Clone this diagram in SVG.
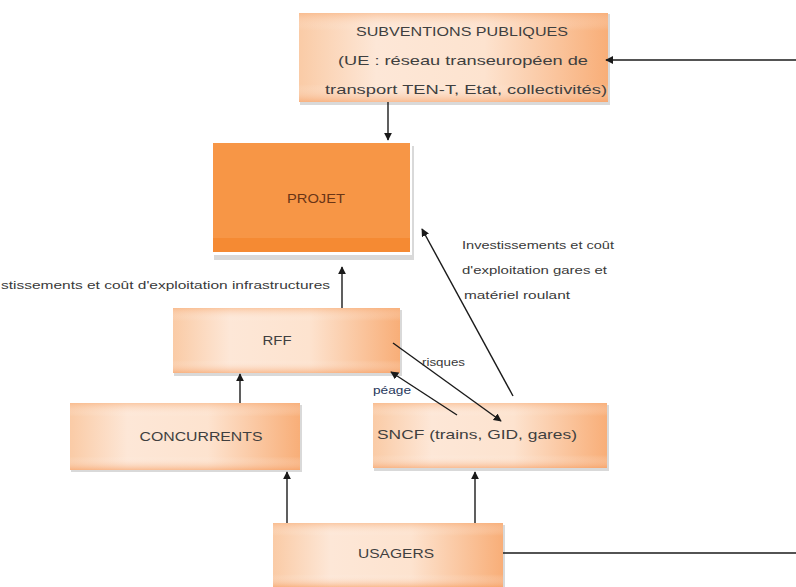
<svg xmlns="http://www.w3.org/2000/svg" width="796" height="587" viewBox="0 0 796 587">
<defs>
<linearGradient id="peach" x1="0" y1="0" x2="1" y2="0">
<stop offset="0" stop-color="#FACBA6"/>
<stop offset="0.25" stop-color="#FDE7D7"/>
<stop offset="0.6" stop-color="#FDE3CF"/>
<stop offset="1" stop-color="#F8AE78"/>
</linearGradient>
<linearGradient id="shade" x1="0" y1="0" x2="0" y2="1">
<stop offset="0" stop-color="#F8B07C" stop-opacity="0.55"/>
<stop offset="0.2" stop-color="#FFFFFF" stop-opacity="0"/>
<stop offset="0.8" stop-color="#FFFFFF" stop-opacity="0"/>
<stop offset="1" stop-color="#F6A066" stop-opacity="0.6"/>
</linearGradient>
<marker id="arr" viewBox="0 0 10 10" refX="9" refY="5" markerWidth="8" markerHeight="8" markerUnits="userSpaceOnUse" orient="auto">
<path d="M0,0 L10,5 L0,10 Z" fill="#1a1a1a"/>
</marker>
</defs>
<style>
.box{fill:url(#peach);}
.ov{fill:url(#shade);}
.sh{fill:#d9d9d9;}
.t{font-family:"Liberation Sans",Arial,sans-serif;font-size:13px;fill:#3f3f3f;text-anchor:middle;}
.lbl{font-family:"Liberation Sans",Arial,sans-serif;font-size:10.5px;fill:#3a3a3a;}
.c{stroke:#1a1a1a;stroke-width:1.4;fill:none;marker-end:url(#arr);}
.cl{stroke:#1a1a1a;stroke-width:1.4;fill:none;}
</style>
<rect width="796" height="587" fill="#ffffff"/>

<g id="subventions">
<rect class="sh" x="300" y="14" width="310" height="91"/>
<rect class="box" x="299" y="13" width="309" height="89"/>
<rect class="ov" x="299" y="13" width="309" height="89"/>
<text class="t" x="462" y="36" textLength="212" lengthAdjust="spacingAndGlyphs">SUBVENTIONS PUBLIQUES</text>
<text class="t" x="463" y="65" textLength="250" lengthAdjust="spacingAndGlyphs">(UE : réseau transeuropéen de</text>
<text class="t" x="466" y="94" textLength="282" lengthAdjust="spacingAndGlyphs">transport TEN-T, Etat, collectivités)</text>
</g>

<g id="projet">
<rect class="sh" x="214" y="146" width="200" height="114"/>
<rect x="211" y="141" width="201" height="114" fill="#ffffff"/>
<rect x="213" y="143" width="197" height="109" fill="#F79646"/>
<rect x="213" y="238" width="197" height="14" fill="#F58A33"/>
<text class="t" x="316" y="203" textLength="58" lengthAdjust="spacingAndGlyphs" style="fill:#6a3516">PROJET</text>
</g>

<g id="rff">
<rect class="sh" x="174" y="310" width="228" height="66"/>
<rect class="box" x="173" y="308" width="227" height="65"/>
<rect class="ov" x="173" y="308" width="227" height="65"/>
<text class="t" x="277" y="345" textLength="29" lengthAdjust="spacingAndGlyphs">RFF</text>
</g>

<g id="concurrents">
<rect class="sh" x="71" y="405" width="231" height="67"/>
<rect class="box" x="70" y="403" width="230" height="67"/>
<rect class="ov" x="70" y="403" width="230" height="67"/>
<text class="t" x="201" y="441" textLength="123" lengthAdjust="spacingAndGlyphs">CONCURRENTS</text>
</g>

<g id="sncf">
<rect class="sh" x="374" y="405" width="235" height="66"/>
<rect class="box" x="373" y="403" width="234" height="65"/>
<rect class="ov" x="373" y="403" width="234" height="65"/>
<text class="t" x="477" y="439" textLength="200" lengthAdjust="spacingAndGlyphs">SNCF (trains, GID, gares)</text>
</g>

<g id="usagers">
<rect class="sh" x="274" y="525" width="231" height="62"/>
<rect class="box" x="273" y="523" width="230" height="64"/>
<rect class="ov" x="273" y="523" width="230" height="64"/>
<text class="t" x="396" y="558" textLength="76" lengthAdjust="spacingAndGlyphs">USAGERS</text>
</g>

<g id="connectors">
<line class="c" x1="796" y1="60" x2="606" y2="60"/>
<line class="cl" x1="503" y1="553" x2="796" y2="553"/>
<line class="c" x1="388" y1="102" x2="388" y2="140"/>
<line class="c" x1="342" y1="308" x2="342" y2="267"/>
<line class="c" x1="240" y1="403" x2="240" y2="374"/>
<line class="c" x1="287" y1="523" x2="287" y2="472"/>
<line class="c" x1="475" y1="523" x2="475" y2="472"/>
<line class="c" x1="513" y1="396" x2="422" y2="229"/>
<line class="c" x1="393" y1="343" x2="501" y2="421"/>
<line class="c" x1="457" y1="415" x2="391" y2="372"/>
</g>

<g id="labels">
<text class="lbl" x="1" y="289" textLength="329" lengthAdjust="spacingAndGlyphs">stissements et coût d'exploitation infrastructures</text>
<text class="lbl" x="462" y="249" textLength="152" lengthAdjust="spacingAndGlyphs">Investissements et coût</text>
<text class="lbl" x="462" y="274" textLength="145" lengthAdjust="spacingAndGlyphs">d'exploitation gares et</text>
<text class="lbl" x="464" y="299" textLength="106" lengthAdjust="spacingAndGlyphs">matériel roulant</text>
<text class="lbl" x="422" y="366" textLength="43" lengthAdjust="spacingAndGlyphs">risques</text>
<text class="lbl" x="373" y="394" textLength="38" lengthAdjust="spacingAndGlyphs" style="fill:#26375a">péage</text>
</g>
</svg>
